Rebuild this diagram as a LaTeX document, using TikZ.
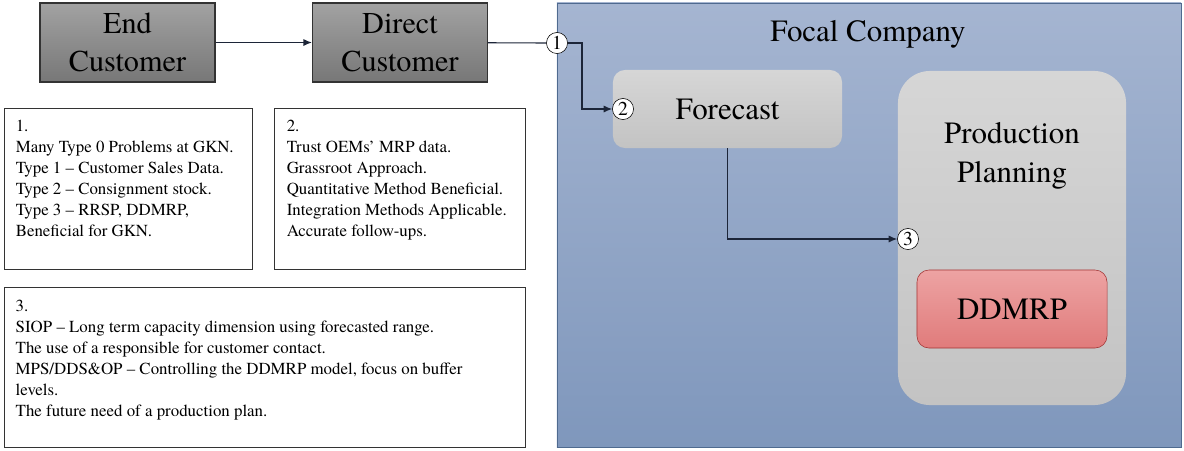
\documentclass[tikz,border=0pt]{standalone}
\usepackage{fontspec}
\setmainfont{TeX Gyre Termes}
\usetikzlibrary{arrows.meta}
\definecolor{custtop}{HTML}{A2A2A2}
\definecolor{custbot}{HTML}{777777}
\definecolor{focaltop}{HTML}{A5B5D1}
\definecolor{focalbot}{HTML}{7F97BC}
\definecolor{focaledge}{HTML}{4F6A8F}
\definecolor{parttop}{HTML}{D6D6D6}
\definecolor{partbot}{HTML}{C3C3C3}
\definecolor{ddtop}{HTML}{EDA3A3}
\definecolor{ddbot}{HTML}{E07B7B}
\definecolor{ddedge}{HTML}{A33535}
\definecolor{flow}{HTML}{1C2538}

\begin{document}
\begin{tikzpicture}[x=0.025cm, y=-0.025cm, >={Latex[length=6pt,width=5pt]},
  cust/.style={draw=black!80, line width=0.8pt, top color=custtop, bottom color=custbot,
    inner sep=0pt, minimum width=4.375cm, minimum height=1.975cm, align=center,
    font=\fontsize{21.5}{27}\selectfont},
  note/.style={draw=black!80, line width=0.7pt, fill=white, inner sep=0pt},
  notetext/.style={anchor=north west, align=left, inner sep=0pt,
    font=\fontsize{12}{15}\selectfont},
  part/.style={top color=parttop, bottom color=partbot, inner sep=0pt},
  big/.style={align=center, inner sep=0pt, font=\fontsize{22}{27.5}\selectfont},
  num/.style={circle, draw=black, fill=white, inner sep=0pt, minimum size=15pt,
    font=\fontsize{14}{14}\selectfont},
  link/.style={draw=flow, line width=0.8pt}]
\useasboundingbox (0,0) rectangle (1184,450);

% customers
\node[cust] (endc) at (127.5,42.5) {End\\Customer};
\node[cust] (dirc) at (400,42.5) {Direct\\Customer};

% findings
\node[note, minimum width=6.175cm, minimum height=4cm] (note1) at (128.5,189) {};
\node[note, minimum width=6.25cm, minimum height=4cm] (note2) at (400,189) {};
\node[note, minimum width=13cm, minimum height=3.975cm] (note3) at (265,367.5) {};
\node[notetext] (text1) at ([shift={(11,11)}]note1.north west)
  {1.\\Many Type 0 Problems at GKN.\\Type 1 -- Customer Sales Data.\\
   Type 2 -- Consignment stock.\\Type 3 -- RRSP, DDMRP,\\Beneficial for GKN.};
\node[notetext] (text2) at ([shift={(12,11)}]note2.north west)
  {2.\\Trust OEMs' MRP data.\\Grassroot Approach.\\Quantitative Method Beneficial.\\
   Integration Methods Applicable.\\Accurate follow-ups.};
\node[notetext] (text3) at ([shift={(11,12)}]note3.north west)
  {3.\\SIOP -- Long term capacity dimension using forecasted range.\\
   The use of a responsible for customer contact.\\
   MPS/DDS\&OP -- Controlling the DDMRP model, focus on buffer\\levels.\\
   The future need of a production plan.};

% focal company
\node[draw=focaledge, top color=focaltop, bottom color=focalbot, inner sep=0pt,
  minimum width=15.6cm, minimum height=11.1cm] (focal) at (869,225) {};
\node[big] (focaltitle) at (868,34) {Focal Company};
\node[part, rounded corners=0.3cm, minimum width=5.725cm, minimum height=1.95cm,
  font=\fontsize{22}{27.5}\selectfont] (fore) at (727.5,109) {Forecast};
\node[part, rounded corners=0.8cm, minimum width=5.7cm, minimum height=8.35cm] (plan) at (1012,238) {};
\node[big] (plantitle) at (1012,156) {Production\\Planning};
\node[draw=ddedge, top color=ddtop, bottom color=ddbot, rounded corners=0.3cm, inner sep=0pt,
  minimum width=4.75cm, minimum height=1.95cm, font=\fontsize{22}{27.5}\selectfont] (ddmrp) at (1012,309) {DDMRP};

% flows
\node[num] (n1) at (557,43) {1};
\node[num] (n2) at (623,109) {2};
\node[num] (n3) at (908,239) {3};
\coordinate (k1) at (582,43);
\draw[link, ->] (endc) -- (dirc);
\draw[link] (dirc) -- (n1);
\draw[link, ->] (n1) -- (k1) |- (n2);
\draw[link, ->] (fore) |- (n3);
\end{tikzpicture}
\end{document}
